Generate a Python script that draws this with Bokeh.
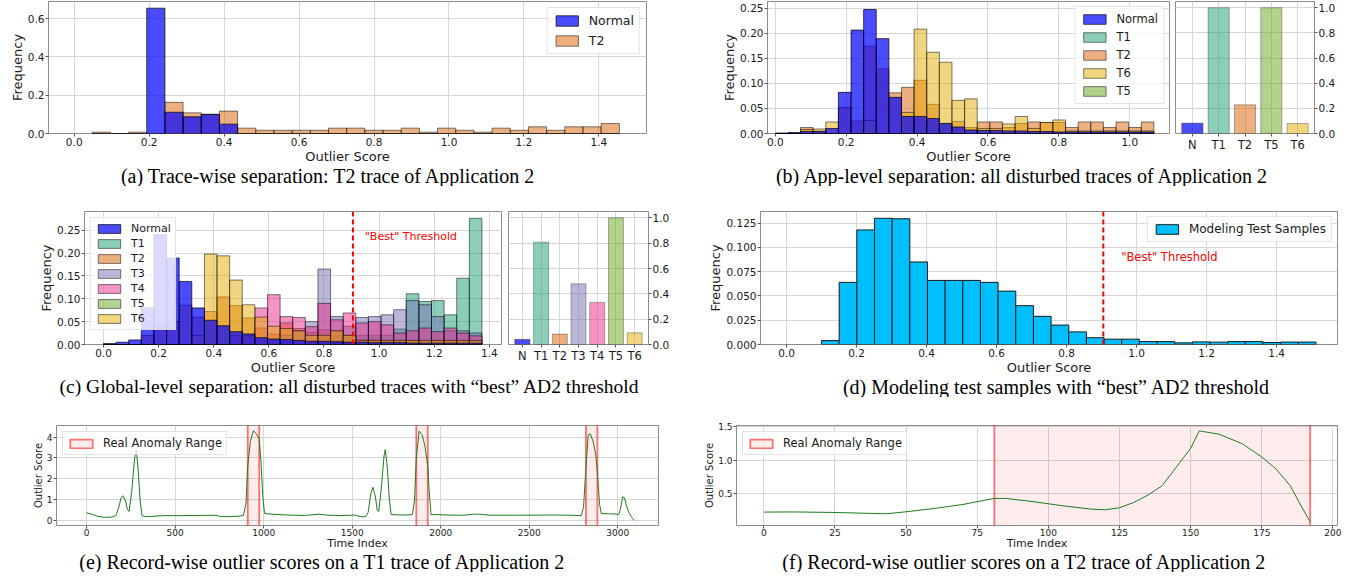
import numpy as np
from bokeh.plotting import figure
from bokeh.models import Range1d, FixedTicker, PrintfTickFormatter, Span, Legend, LegendItem
from bokeh.layouts import column, row
from bokeh.embed import file_html
from bokeh.resources import INLINE
from bokeh.core.properties import value

# ---------------- data ----------------
# (a) trace-wise histogram
A_BIN_START = 0.048
A_BIN_WIDTH = 0.0485
A_NORMAL = [0, 0, 0, 0.655, 0.111, 0.087, 0.099, 0.049, 0, 0, 0, 0, 0, 0, 0, 0, 0, 0, 0, 0, 0, 0, 0, 0, 0, 0, 0, 0, 0]
A_T2 = [0.007, 0.0, 0.007, 0.0, 0.163, 0.108, 0.101, 0.117, 0.028, 0.017, 0.017, 0.017, 0.017, 0.028, 0.028,
        0.017, 0.017, 0.028, 0.007, 0.028, 0.017, 0.007, 0.028, 0.017, 0.035, 0.017, 0.035, 0.035, 0.052]
A_XTICKS = [0.0, 0.2, 0.4, 0.6, 0.8, 1.0, 1.2, 1.4]
A_YTICKS = [0.0, 0.2, 0.4, 0.6]

# (b) app-level histogram
B_BIN_START = 0.0
B_BIN_WIDTH = 0.0356
B_NORMAL = [0.001, 0.002, 0.004, 0.004, 0.010, 0.082, 0.206, 0.247, 0.189, 0.072, 0.034, 0.034, 0.030, 0.020, 0.013,
            0.007, 0.006, 0.006, 0.005, 0.005, 0.004, 0.004, 0.003, 0.003, 0.003, 0.003, 0.003, 0.003, 0.003, 0.003]
B_T1 = [0.0] * 30
B_T2 = [0.0, 0.0, 0.012, 0.005, 0.0, 0.052, 0.025, 0.174, 0.129, 0.081, 0.092, 0.106, 0.058, 0.020, 0.024,
        0.012, 0.023, 0.023, 0.012, 0.020, 0.023, 0.022, 0.022, 0.012, 0.023, 0.023, 0.012, 0.023, 0.012, 0.023]
B_T6 = [0.0, 0.0, 0.008, 0.009, 0.023, 0.0, 0.0, 0.026, 0.0, 0.0, 0.042, 0.208, 0.162, 0.142, 0.066,
        0.069, 0.010, 0.010, 0.019, 0.034, 0.010, 0.022, 0.027, 0.005, 0.005, 0.005, 0.005, 0.005, 0.005, 0.005]
B_T5 = [0.0] * 30
B_XTICKS = [0.0, 0.2, 0.4, 0.6, 0.8, 1.0]
B_YTICKS = [0.0, 0.05, 0.10, 0.15, 0.20, 0.25]
B_BAR_CATS = ["N", "T1", "T2", "T5", "T6"]
B_BAR_VALS = [0.082, 1.0, 0.228, 1.0, 0.079]
BAR_YTICKS = [0.0, 0.2, 0.4, 0.6, 0.8, 1.0]

# (c) global-level histogram
C_BIN_START = 0.0
C_BIN_WIDTH = 0.04577
C_NORMAL = [0.002, 0.005, 0.010, 0.080, 0.240, 0.189, 0.138, 0.080, 0.053, 0.041, 0.028, 0.023, 0.015, 0.012, 0.011,
            0.009, 0.007, 0.007, 0.006, 0.005, 0.005, 0.004, 0.004, 0.004, 0.003, 0.003, 0.003, 0.003, 0.003, 0.003]
C_T1 = [0, 0, 0, 0, 0, 0, 0, 0, 0, 0, 0, 0, 0, 0, 0, 0, 0,
        0.020, 0.020, 0.020, 0.020, 0.020, 0.020, 0.034, 0.111, 0.094, 0.096, 0.065, 0.145, 0.276]
C_T2 = [0, 0, 0, 0.020, 0.040, 0.050, 0.086, 0.060, 0.072, 0.104, 0.085, 0.058, 0.036, 0.023, 0.047,
        0.035, 0.026, 0.032, 0.030, 0.020, 0.010, 0.010, 0.008, 0.008, 0.008, 0.008, 0.008, 0.008, 0.008, 0.008]
C_T3 = [0, 0, 0, 0, 0, 0, 0, 0, 0, 0, 0, 0, 0, 0,
        0.020, 0.030, 0.050, 0.165, 0.061, 0.040, 0.059, 0.061, 0.065, 0.076, 0.096, 0.087, 0.061, 0.030, 0.030, 0.025]
C_T4 = [0, 0, 0, 0, 0, 0, 0, 0, 0, 0,
        0.020, 0.020, 0.080, 0.109, 0.061, 0.059, 0.039, 0.090, 0.054, 0.069, 0.047, 0.050, 0.043, 0.025, 0.030,
        0.036, 0.028, 0.036, 0.025, 0.019]
C_T5 = [0.0] * 30
C_T6 = [0, 0, 0, 0, 0, 0, 0, 0.020, 0.198, 0.194, 0.141, 0.087, 0.060, 0.040, 0.035,
        0.030, 0.020, 0.020, 0.030, 0.020, 0.009, 0.009, 0.009, 0.009, 0.009, 0.009, 0.009, 0.009, 0.009, 0.009]
C_XTICKS = [0.0, 0.2, 0.4, 0.6, 0.8, 1.0, 1.2, 1.4]
C_YTICKS = [0.0, 0.05, 0.10, 0.15, 0.20, 0.25]
C_BAR_CATS = ["N", "T1", "T2", "T3", "T4", "T5", "T6"]
C_BAR_VALS = [0.040, 0.808, 0.082, 0.479, 0.332, 1.0, 0.092]
THRESHOLD = 0.905

# (d) modeling test samples
D_BIN_START = 0.10
D_BIN_WIDTH = 0.05045
D_VALS = [0.004, 0.064, 0.118, 0.130, 0.1295, 0.085, 0.066, 0.066, 0.066, 0.064, 0.055, 0.040, 0.029, 0.020,
          0.013, 0.007, 0.0055, 0.0055, 0.003, 0.003, 0.0017, 0.0027, 0.0024, 0.003, 0.003, 0.002, 0.0025, 0.0025]
D_XTICKS = [0.0, 0.2, 0.4, 0.6, 0.8, 1.0, 1.2, 1.4]
D_YTICKS = [0.0, 0.025, 0.05, 0.075, 0.10, 0.125]

# (e) record-wise scores, T1 trace
E_X = [0, 30, 60, 100, 140, 165, 180, 195, 205, 220, 230, 240, 255, 270, 280, 290, 302, 313, 330, 380, 430, 530,
       630, 730, 750, 790, 850, 885, 900, 910, 925, 942, 960, 975, 985, 995, 1005, 1030, 1130, 1230, 1290, 1310,
       1350, 1430, 1490, 1510, 1550, 1575, 1590, 1605, 1617, 1630, 1642, 1650, 1665, 1680, 1687, 1698, 1710,
       1720, 1750, 1810, 1840, 1852, 1862, 1878, 1895, 1910, 1927, 1935, 1945, 1980, 2030, 2130, 2190, 2220,
       2280, 2430, 2630, 2730, 2795, 2807, 2820, 2833, 2845, 2860, 2875, 2885, 2897, 2907, 2945, 2985, 3005,
       3015, 3028, 3038, 3050, 3065, 3080, 3095]
E_Y = [0.38, 0.32, 0.22, 0.17, 0.18, 0.25, 0.60, 1.10, 1.20, 0.95, 0.55, 0.45, 1.40, 2.90, 3.40, 2.60, 1.00, 0.25,
       0.20, 0.22, 0.25, 0.25, 0.26, 0.27, 0.22, 0.20, 0.22, 0.25, 0.80, 2.60, 3.80, 4.30, 4.15, 3.90, 2.80, 1.20,
       0.35, 0.33, 0.28, 0.26, 0.30, 0.32, 0.28, 0.25, 0.27, 0.28, 0.20, 0.20, 0.40, 1.30, 1.60, 1.20, 0.50, 0.45,
       1.60, 3.10, 3.40, 2.60, 1.00, 0.30, 0.29, 0.28, 0.30, 1.00, 3.00, 4.28, 4.10, 3.60, 2.60, 1.40, 0.30, 0.30,
       0.28, 0.27, 0.32, 0.32, 0.27, 0.27, 0.28, 0.27, 0.25, 0.70, 2.50, 4.10, 4.15, 3.80, 3.20, 2.30, 0.80, 0.35,
       0.34, 0.33, 0.30, 0.55, 1.15, 1.10, 0.70, 0.35, 0.15, 0.02]
E_ANOM_START = [910, 1862, 2820]
E_ANOM_END = [975, 1927, 2885]
E_XTICKS = [0, 500, 1000, 1500, 2000, 2500, 3000]
E_YTICKS = [0, 1, 2, 3, 4]

# (f) record-wise scores, T2 trace
F_X = [0, 10, 25, 43, 50, 60, 70, 81, 85, 95, 105, 115, 120, 125, 130, 135, 140, 145, 150, 153, 160, 168, 175,
       180, 185, 188, 192]
F_Y = [0.225, 0.228, 0.22, 0.20, 0.23, 0.28, 0.34, 0.43, 0.43, 0.38, 0.32, 0.27, 0.26, 0.29, 0.37, 0.48, 0.62,
       0.90, 1.18, 1.44, 1.39, 1.25, 1.05, 0.87, 0.62, 0.38, 0.08]
F_ANOM_START = [81]
F_ANOM_END = [192]
F_XTICKS = [0, 25, 50, 75, 100, 125, 150, 175, 200]
F_YTICKS = [0.5, 1.0, 1.5]

CAPTIONS = [
    "(a) Trace-wise separation: T2 trace of Application 2",
    "(b) App-level separation: all disturbed traces of Application 2",
    "(c) Global-level separation: all disturbed traces with \u201cbest\u201d AD2 threshold",
    "(d) Modeling test samples with \u201cbest\u201d AD2 threshold",
    "(e) Record-wise outlier scores on a T1 trace of Application 2",
    "(f) Record-wise outlier scores on a T2 trace of Application 2",
]

COLORS = {"Normal": "blue", "T1": "#1b9e77", "T2": "#d95f02", "T3": "#7570b3",
          "T4": "#e7298a", "T5": "#66a61e", "T6": "#e6ab02"}
ALPHAS = {"Normal": 0.7, "T1": 0.5, "T2": 0.5, "T3": 0.5, "T4": 0.5, "T5": 0.5, "T6": 0.5}

FONT = "DejaVu Sans"
SERIF = "Liberation Serif"
PAGE_W = 1343


def base_fig(w, h, xr, yr, borders, y_right=False, tick_size="10.5px", label_size="13px"):
    l, r, t, b = borders
    p = figure(width=w, height=h, x_range=Range1d(*xr), y_range=Range1d(*yr),
               output_backend="svg", toolbar_location=None,
               min_border_left=l, min_border_right=r, min_border_top=t, min_border_bottom=b,
               y_axis_location=("right" if y_right else "left"))
    p.outline_line_color = "#8c8c8c"
    p.outline_line_width = 1
    p.grid.grid_line_color = "#d6d6d6"
    p.grid.grid_line_width = 1
    for ax in p.axis:
        ax.axis_line_color = None
        ax.major_tick_line_color = "#555555"
        ax.major_tick_out = 3
        ax.major_tick_in = 0
        ax.minor_tick_line_color = None
        ax.major_label_text_font = FONT
        ax.major_label_text_font_size = tick_size
        ax.major_label_text_color = "#1a1a1a"
        ax.axis_label_text_font = FONT
        ax.axis_label_text_font_style = "normal"
        ax.axis_label_text_font_size = label_size
        ax.axis_label_text_color = "#1a1a1a"
        ax.axis_label_standoff = 0
        ax.major_label_standoff = 1
    return p


def set_ticks(axis, ticks, fmt=None):
    axis.ticker = FixedTicker(ticks=ticks)
    if fmt:
        axis.formatter = PrintfTickFormatter(format=fmt)


def hist(p, start, width, vals, name):
    n = len(vals)
    edges = start + width * np.arange(n + 1)
    a = ALPHAS[name]
    return p.quad(left=edges[:-1], right=edges[1:], bottom=0, top=vals,
                  fill_color=COLORS[name], fill_alpha=a, line_color="black",
                  line_alpha=a, line_width=1)


def add_legend(p, items, loc, font="11px", spacing=5, padding=5, margin=6, gh=12, lh=12):
    leg = Legend(items=[LegendItem(label=lab, renderers=[r]) for lab, r in items], location=loc)
    leg.label_text_font = FONT
    leg.label_text_font_size = font
    leg.label_text_color = "#1a1a1a"
    leg.glyph_width = 28
    leg.glyph_height = gh
    leg.label_height = lh
    leg.spacing = spacing
    leg.padding = padding
    leg.margin = margin
    leg.label_standoff = 8
    leg.border_line_color = "#cccccc"
    leg.background_fill_alpha = 0.8
    p.add_layout(leg)


def bar_fig(w, h, cats, vals, borders, xr):
    p = base_fig(w, h, xr, (0, 1.05), borders, y_right=True)
    xs = list(range(len(cats)))
    names = ["Normal" if c == "N" else c for c in cats]
    p.vbar(x=xs, top=vals, width=0.8,
           fill_color=[COLORS[n] for n in names], fill_alpha=[ALPHAS[n] for n in names],
           line_color="black", line_alpha=[ALPHAS[n] * 0.6 for n in names], line_width=1)
    p.xaxis.ticker = FixedTicker(ticks=xs)
    p.xaxis.major_label_overrides = {i: c for i, c in enumerate(cats)}
    p.xaxis.major_label_text_font_size = "11.5px"
    set_ticks(p.yaxis[0], BAR_YTICKS, "%.1f")
    return p


def caption_strip(h, ymid, centers, texts, sizes):
    # centers are page x positions; the strip starts at the 8px page margin
    p = figure(width=PAGE_W, height=h, x_range=Range1d(8, 8 + PAGE_W), y_range=Range1d(0, h),
               x_axis_type=None, y_axis_type=None, output_backend="svg",
               toolbar_location=None, min_border=0)
    p.outline_line_color = None
    for cx, t, s in zip(centers, texts, sizes):
        p.text(x=[cx], y=[ymid], text=[t], text_align="center", text_baseline="middle",
               text_font=value(SERIF), text_font_size=s, text_color="black")
    return p


# ---------------- row 1 ----------------
H1 = 166
pa = base_fig(692, H1, (-0.0686, 1.527), (0, 0.69), (48, 46, 1, 32))
ra_t2 = hist(pa, A_BIN_START, A_BIN_WIDTH, A_T2, "T2")
ra_n = hist(pa, A_BIN_START, A_BIN_WIDTH, A_NORMAL, "Normal")
set_ticks(pa.xaxis[0], A_XTICKS, "%.1f")
set_ticks(pa.yaxis[0], A_YTICKS, "%.1f")
pa.xaxis.axis_label = "Outlier Score"
pa.yaxis.axis_label = "Frequency"
add_legend(pa, [("Normal", ra_n), ("T2", ra_t2)], "top_right", font="12.5px", spacing=5, gh=13, lh=13)

pbm = base_fig(479, H1, (-0.022, 1.112), (0, 0.263), (75, 2, 1, 32))
rb1 = hist(pbm, B_BIN_START, B_BIN_WIDTH, B_T1, "T1")
rb2 = hist(pbm, B_BIN_START, B_BIN_WIDTH, B_T2, "T2")
rb6 = hist(pbm, B_BIN_START, B_BIN_WIDTH, B_T6, "T6")
rb5 = hist(pbm, B_BIN_START, B_BIN_WIDTH, B_T5, "T5")
rbn = hist(pbm, B_BIN_START, B_BIN_WIDTH, B_NORMAL, "Normal")
set_ticks(pbm.xaxis[0], B_XTICKS, "%.1f")
set_ticks(pbm.yaxis[0], B_YTICKS, "%.2f")
pbm.xaxis.axis_label = "Outlier Score"
pbm.yaxis.axis_label = "Frequency"
add_legend(pbm, [("Normal", rbn), ("T1", rb1), ("T2", rb2), ("T6", rb6), ("T5", rb5)], "top_right",
           font="11.5px", spacing=4, margin=5)

pbb = bar_fig(172, H1, B_BAR_CATS, B_BAR_VALS, (4, 29, 1, 32), (-0.64, 4.64))

row1 = row(pa, pbm, pbb)
cap1 = caption_strip(20, 10.6, [336, 1030], [CAPTIONS[0], CAPTIONS[1]], ["20px", "20px"])

# ---------------- row 2 ----------------
H2 = 191
pcm = base_fig(505, H2, (-0.0689, 1.444), (0, 0.291), (84, 4, 25, 32))
rc = {}
for name, vals in [("T1", C_T1), ("T2", C_T2), ("T3", C_T3), ("T4", C_T4), ("T5", C_T5), ("T6", C_T6),
                   ("Normal", C_NORMAL)]:
    rc[name] = hist(pcm, C_BIN_START, C_BIN_WIDTH, vals, name)
set_ticks(pcm.xaxis[0], C_XTICKS, "%.1f")
set_ticks(pcm.yaxis[0], C_YTICKS, "%.2f")
pcm.xaxis.axis_label = "Outlier Score"
pcm.yaxis.axis_label = "Frequency"
pcm.add_layout(Span(location=THRESHOLD, dimension="height", line_color="red", line_width=2, line_dash="5 3"))
pcm.text(x=[0.948], y=[0.236], text=['"Best" Threshold'], text_color="red", text_font_size="11px",
         text_baseline="middle", text_align="left", text_font=value(FONT))
add_legend(pcm, [(n, rc[n]) for n in ["Normal", "T1", "T2", "T3", "T4", "T5", "T6"]], "top_left",
           spacing=2, padding=4, margin=6, gh=11, lh=11)

pcb = bar_fig(172, H2, C_BAR_CATS, C_BAR_VALS, (3, 29, 25, 32), (-0.74, 6.74))

pd_ = base_fig(666, H2, (-0.0743, 1.574), (0, 0.137), (83, 6, 25, 32))
edges_d = D_BIN_START + D_BIN_WIDTH * np.arange(len(D_VALS) + 1)
rd = pd_.quad(left=edges_d[:-1], right=edges_d[1:], bottom=0, top=D_VALS, fill_color="#00bfff",
              line_color="#1a1a1a", line_width=1)
set_ticks(pd_.xaxis[0], D_XTICKS, "%.1f")
set_ticks(pd_.yaxis[0], D_YTICKS, "%.3f")
pd_.xaxis.axis_label = "Outlier Score"
pd_.yaxis.axis_label = "Frequency"
pd_.add_layout(Span(location=THRESHOLD, dimension="height", line_color="red", line_width=2, line_dash="5 3"))
pd_.text(x=[0.956], y=[0.090], text=['"Best" Threshold'], text_color="red", text_font_size="11.5px",
         text_baseline="middle", text_align="left", text_font=value(FONT))
add_legend(pd_, [("Modeling Test Samples", rd)], "top_right", font="12px", margin=5)

row2 = row(pcm, pcb, pd_)
cap2 = caption_strip(20, 10.6, [357, 1064], [CAPTIONS[2], CAPTIONS[3]], ["19.5px", "20px"])

# ---------------- row 3 ----------------
H3 = 155


def record_fig(w, xs, ys, starts, ends, xr, yr, borders, xticks, yticks, yfmt=None, leg_font="11px"):
    p = base_fig(w, H3, xr, yr, borders, tick_size="9px", label_size="11px")
    ra = p.quad(left=starts, right=ends, bottom=-100, top=100, fill_color="red", fill_alpha=0.07,
                line_color="red", line_alpha=0.55, line_width=1.8)
    p.line(x=xs, y=ys, line_color="#1f7a1f", line_width=1)
    set_ticks(p.xaxis[0], xticks)
    set_ticks(p.yaxis[0], yticks, yfmt)
    p.xaxis.axis_label = "Time Index"
    p.yaxis.axis_label = "Outlier Score"
    p.yaxis.axis_label_text_font_size = "10px"
    p.xaxis.major_label_standoff = 0
    p.xaxis.axis_label_standoff = -2
    add_legend(p, [("Real Anomaly Range", ra)], "top_left", font=leg_font, margin=6, padding=4, gh=11, lh=11)
    return p


pe = record_fig(672, E_X, E_Y, E_ANOM_START, E_ANOM_END, (-170, 3230), (-0.22, 4.55), (56, 14, 28, 22),
                E_XTICKS, E_YTICKS, leg_font="11.5px")
pf = record_fig(671, F_X, F_Y, F_ANOM_START, F_ANOM_END, (-9.6, 201.6), (0.025, 1.52), (64, 6, 28, 22),
                F_XTICKS, F_YTICKS, "%.1f", leg_font="11.5px")
row3 = row(pe, pf)
cap3 = caption_strip(20, 10.2, [330, 1032], [CAPTIONS[4], CAPTIONS[5]], ["20px", "20px"])

layout = column(row1, cap1, row2, cap2, row3, cap3)
open("out.html", "w").write(file_html(layout, INLINE))
